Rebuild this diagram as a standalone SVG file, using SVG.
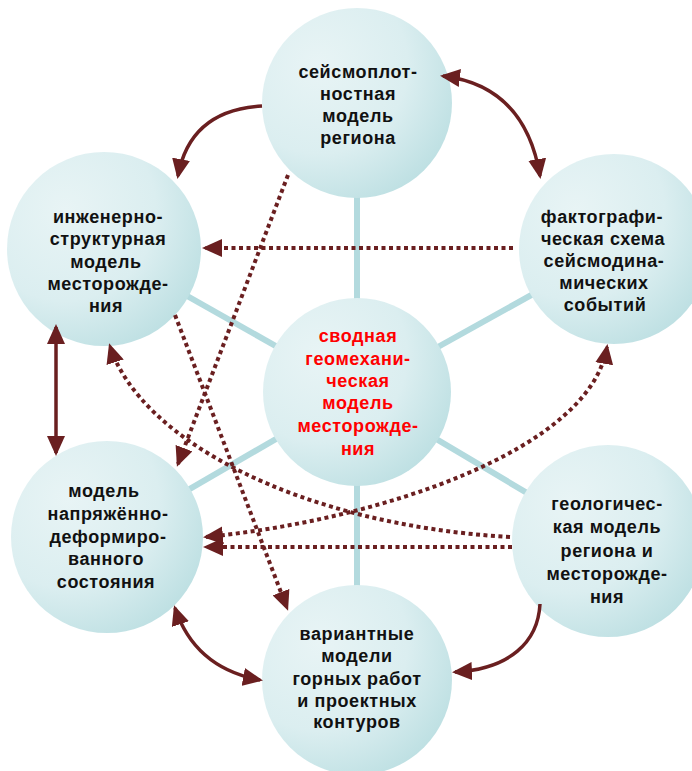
<svg xmlns="http://www.w3.org/2000/svg" width="692" height="771" viewBox="0 0 692 771">
  <defs>
    <radialGradient id="ball" cx="0.3" cy="0.3" r="0.85">
      <stop offset="0" stop-color="#e8f4f5"/>
      <stop offset="0.55" stop-color="#dbeef0"/>
      <stop offset="1" stop-color="#b8dde0"/>
    </radialGradient>
    <marker id="head" viewBox="0 0 20 18" refX="17" refY="9" markerWidth="20" markerHeight="18" markerUnits="userSpaceOnUse" orient="auto-start-reverse">
      <path d="M0,0 L20,9 L0,18 Z" fill="#6a1f20"/>
    </marker>
    <style>
      .node circle { fill: url(#ball); }
      .node text { font-family: "Liberation Sans", Arial, sans-serif; font-size: 18px; font-weight: bold; fill: #111; text-anchor: middle; letter-spacing: 0.6px; }
      .node.core text { fill: #ff0000; }
      .spoke { stroke: #b3dade; stroke-width: 6; fill: none; }
      .solid { stroke: #6a1f20; stroke-width: 3.5; fill: none; }
      .dots { stroke: #6a1f20; stroke-width: 4; fill: none; stroke-dasharray: 4 3.5; }
    </style>
  </defs>
  <rect width="692" height="771" fill="#ffffff"/>

  <!-- spokes joining the core model to each surrounding model -->
  <g id="spokes">
    <line class="spoke" x1="357" y1="392" x2="357" y2="103"/>
    <line class="spoke" x1="357" y1="392" x2="357" y2="680"/>
    <line class="spoke" x1="357" y1="392" x2="104" y2="249"/>
    <line class="spoke" x1="357" y1="392" x2="614" y2="249"/>
    <line class="spoke" x1="357" y1="392" x2="107" y2="537"/>
    <line class="spoke" x1="357" y1="392" x2="608" y2="541"/>
  </g>

  <g id="n-seismo" class="node">
    <circle cx="357" cy="103" r="95"/>
    <text><tspan x="358" y="78">сейсмоплот-</tspan><tspan x="358" y="100">ностная</tspan><tspan x="358" y="122">модель</tspan><tspan x="358" y="144">региона</tspan></text>
  </g>
  <g id="n-engineering" class="node">
    <circle cx="104" cy="249" r="97"/>
    <text><tspan x="108" y="223">инженерно-</tspan><tspan x="108" y="245">структурная</tspan><tspan x="106" y="268">модель</tspan><tspan x="108" y="290">месторожде-</tspan><tspan x="106" y="312">ния</tspan></text>
  </g>
  <g id="n-facto" class="node">
    <circle cx="614" cy="249" r="95"/>
    <text><tspan x="602" y="223">фактографи-</tspan><tspan x="603" y="245">ческая схема</tspan><tspan x="604" y="267">сейсмодина-</tspan><tspan x="604" y="289">мических</tspan><tspan x="605" y="311">событий</tspan></text>
  </g>
  <g id="n-core" class="node core">
    <circle cx="357" cy="392" r="94"/>
    <text><tspan x="358" y="342">сводная</tspan><tspan x="358" y="365">геомехани-</tspan><tspan x="358" y="387">ческая</tspan><tspan x="358" y="409">модель</tspan><tspan x="358" y="432">месторожде-</tspan><tspan x="358" y="455">ния</tspan></text>
  </g>
  <g id="n-stress" class="node">
    <circle cx="107" cy="537" r="96"/>
    <text><tspan x="104" y="497">модель</tspan><tspan x="108" y="520">напряжённо-</tspan><tspan x="108" y="543">деформиро-</tspan><tspan x="106" y="565">ванного</tspan><tspan x="106" y="588">состояния</tspan></text>
  </g>
  <g id="n-geology" class="node">
    <circle cx="608" cy="541" r="96"/>
    <text><tspan x="607" y="510">геологичес-</tspan><tspan x="607" y="533">кая модель</tspan><tspan x="607" y="557">региона и</tspan><tspan x="607" y="580">месторожде-</tspan><tspan x="607" y="603">ния</tspan></text>
  </g>
  <g id="n-mining" class="node">
    <circle cx="357" cy="680" r="95"/>
    <text><tspan x="357" y="640">вариантные</tspan><tspan x="357" y="662">модели</tspan><tspan x="357" y="685">горных работ</tspan><tspan x="357" y="707">и проектных</tspan><tspan x="357" y="728">контуров</tspan></text>
  </g>

  <!-- information flows between models -->
  <g id="connectors">
    <path class="solid" d="M262,106 Q190,110 178,176" marker-end="url(#head)"/>
    <path class="solid" d="M443,76 Q525,86 540,176" marker-start="url(#head)" marker-end="url(#head)"/>
    <path class="solid" d="M56,327 L56,453" marker-start="url(#head)" marker-end="url(#head)"/>
    <path class="solid" d="M175,608 Q195,668 260,680" marker-start="url(#head)" marker-end="url(#head)"/>
    <path class="solid" d="M540,604 C538,642 510,669 455,672" marker-end="url(#head)"/>

    <path class="dots" d="M513,248 L205,248" marker-end="url(#head)"/>
    <path class="dots" d="M288,175 L178,464" marker-end="url(#head)"/>
    <path class="dots" d="M175,315 L287,608" marker-end="url(#head)"/>
    <path class="dots" d="M510,537 C300,525 140,440 110,346" marker-end="url(#head)"/>
    <path class="dots" d="M206,537 C380,520 590,450 607,347" marker-start="url(#head)" marker-end="url(#head)"/>
    <path class="dots" d="M512,547 L206,547" marker-end="url(#head)"/>
  </g>
</svg>
